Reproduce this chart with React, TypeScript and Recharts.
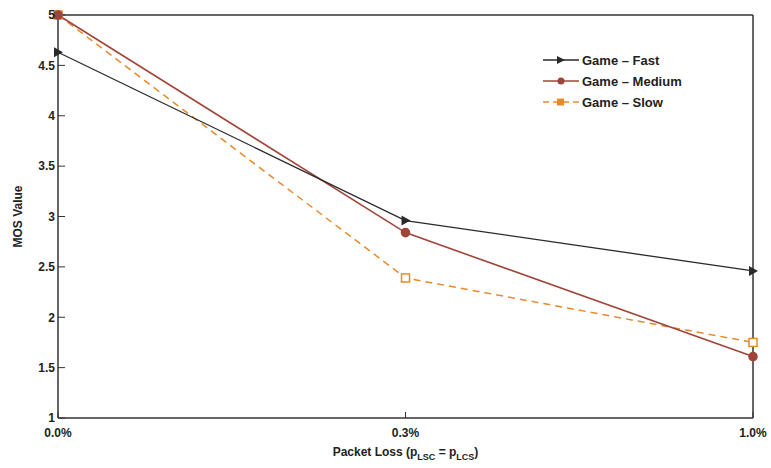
import React from 'react';
import { LineChart, Line, XAxis, YAxis } from 'recharts';

const categories = ['0.0%', '0.3%', '1.0%'];
const fast = [4.63, 2.96, 2.46];
const medium = [5.0, 2.84, 1.61];
const slow = [5.0, 2.39, 1.75];
const yTicks = [1, 1.5, 2, 2.5, 3, 3.5, 4, 4.5, 5];

const data = categories.map((c, i) => ({ loss: c, fast: fast[i], medium: medium[i], slow: slow[i] }));

const FONT = '"Liberation Sans", Arial, sans-serif';
const C_FAST = '#2a2a2a';
const C_MED = '#a04438';
const C_SLOW = '#e8892c';

const Tri = (props: any) => {
  const { cx, cy } = props;
  if (cx == null || cy == null) return null;
  return <polygon points={`${cx - 4},${cy - 5} ${cx + 5},${cy} ${cx - 4},${cy + 5}`} fill={C_FAST} />;
};

const Sq = (props: any) => {
  const { cx, cy } = props;
  if (cx == null || cy == null) return null;
  return <rect x={cx - 4} y={cy - 4} width={8} height={8} fill="#fff" stroke={C_SLOW} strokeWidth={1.5} />;
};

const legendItems = [
  { name: 'Game \u2013 Fast', color: C_FAST, kind: 'tri' },
  { name: 'Game \u2013 Medium', color: C_MED, kind: 'dot' },
  { name: 'Game \u2013 Slow', color: C_SLOW, kind: 'sq' },
];

const LegendBox = () => (
  <svg width={170} height={66}>
    {legendItems.map((it, i) => {
      const y = 10 + i * 21;
      return (
        <g key={it.name}>
          <line x1={2} x2={38} y1={y} y2={y} stroke={it.color} strokeWidth={1.5}
            strokeDasharray={it.kind === 'sq' ? '6 4' : undefined} />
          {it.kind === 'tri' && <polygon points={`16,${y - 4} 24,${y} 16,${y + 4}`} fill={it.color} />}
          {it.kind === 'dot' && <circle cx={20} cy={y} r={3.5} fill={it.color} />}
          {it.kind === 'sq' && <rect x={16} y={y - 3.5} width={7} height={7} fill={it.color} />}
          <text x={41} y={y + 4.5} fontFamily={FONT} fontWeight="bold" fontSize={13} fill="#222">{it.name}</text>
        </g>
      );
    })}
  </svg>
);

const XLabel = (props: any) => {
  const { viewBox } = props;
  const cx = viewBox.x + viewBox.width / 2;
  const y = viewBox.y + 38;
  return (
    <text x={cx} y={y} textAnchor="middle" fontFamily={FONT} fontWeight="bold" fontSize={12} fill="#222">
      Packet Loss (p<tspan dy={4} fontSize={9}>LSC</tspan><tspan dy={-4}> = p</tspan><tspan dy={4} fontSize={9}>LCS</tspan><tspan dy={-4}>)</tspan>
    </text>
  );
};

const tickStyle = { fontFamily: FONT, fontWeight: 'bold' as const, fontSize: 12, fill: '#222' };

export default function App() {
  return (
    <div style={{ width: 771, height: 468, background: '#fff', position: 'relative' }}>
      <style>{'body{margin:0}'}</style>
      <LineChart width={771} height={468} data={data} margin={{ top: 14, right: 17, left: 18, bottom: 20 }}>
        <XAxis dataKey="loss" padding={{ left: 0, right: 0 }} axisLine={{ stroke: '#333', strokeWidth: 1.5 }}
          tickLine={{ stroke: '#333' }} tickSize={-6} tickMargin={16} tick={tickStyle} height={30}
          interval={0} label={<XLabel />} />
        <XAxis xAxisId="top" orientation="top" dataKey="loss" axisLine={{ stroke: '#333', strokeWidth: 1.5 }}
          tickLine={{ stroke: '#333' }} tickSize={-6} tick={false} height={1} interval={0} />
        <YAxis domain={[1, 5]} ticks={yTicks} width={40} axisLine={{ stroke: '#333', strokeWidth: 1.5 }}
          tickLine={{ stroke: '#333' }} tickSize={-7} tickMargin={10} tick={tickStyle}
          label={{ value: 'MOS Value', angle: -90, position: 'insideLeft', offset: 0, style: { fontFamily: FONT, fontWeight: 'bold', fontSize: 12, fill: '#222', textAnchor: 'middle' } }} />
        <YAxis yAxisId="right" orientation="right" domain={[1, 5]} ticks={yTicks} width={1}
          axisLine={{ stroke: '#333', strokeWidth: 1.5 }} tickLine={{ stroke: '#333' }} tickSize={-7} tick={false} />
        <Line xAxisId="top" yAxisId="right" dataKey="medium" stroke="none" dot={false} activeDot={false}
          legendType="none" isAnimationActive={false} />
        <Line dataKey="slow" stroke={C_SLOW} strokeWidth={1.5} strokeDasharray="7 5" dot={<Sq />} isAnimationActive={false} />
        <Line dataKey="medium" stroke={C_MED} strokeWidth={1.6} dot={{ r: 4, fill: C_MED, stroke: C_MED }} isAnimationActive={false} />
        <Line dataKey="fast" stroke={C_FAST} strokeWidth={1.3} dot={<Tri />} isAnimationActive={false} />
      </LineChart>
      <div style={{ position: 'absolute', left: 541, top: 50 }}>
        <LegendBox />
      </div>
    </div>
  );
}
